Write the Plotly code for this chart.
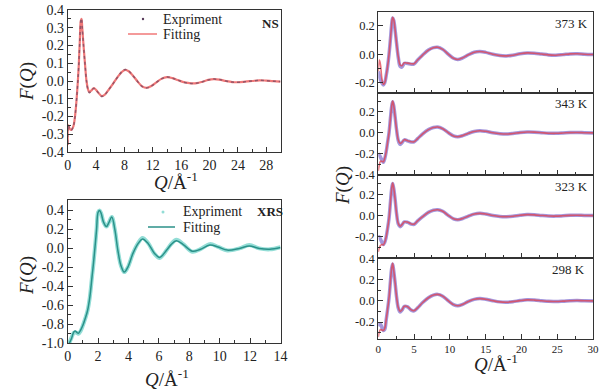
import plotly.graph_objects as go

# ---------------- data ----------------
# NS panel
Q_ns = [0.0, 0.08, 0.3, 0.5, 0.8, 1.0, 1.2, 1.4, 1.55, 1.7, 1.85, 1.95, 2.05, 2.25, 2.45, 2.65,
        2.85, 3.05, 3.3, 3.7, 4.2, 4.8, 5.2, 5.8, 6.4, 7.0, 7.6, 8.1, 8.6, 9.2, 9.9, 10.5, 11.1,
        11.8, 12.5, 13.2, 14.0, 14.8, 15.6, 16.5, 17.4, 18.2, 19.0, 19.8, 20.6, 21.4, 22.3,
        23.2, 24.0, 25.0, 26.0, 27.0, 28.0, 29.0, 30.0]
F_ns_fit = [-0.36, -0.25, -0.27, -0.275, -0.255, -0.21, -0.13, -0.02, 0.08, 0.22, 0.34, 0.35,
            0.30, 0.19, 0.09, 0.0, -0.045, -0.063, -0.055, -0.04, -0.06, -0.085, -0.078, -0.048,
            -0.015, 0.02, 0.05, 0.063, 0.055, 0.03, -0.005, -0.03, -0.038, -0.028, -0.008, 0.012,
            0.022, 0.016, 0.004, -0.008, -0.013, -0.012, -0.004, 0.006, 0.011, 0.008, 0.0, -0.006,
            -0.007, -0.004, 0.0, 0.004, 0.002, -0.001, -0.003]
F_ns_exp = [-0.35, -0.25, -0.272, -0.278, -0.255, -0.21, -0.13, -0.02, 0.08, 0.22, 0.34, 0.352,
            0.30, 0.19, 0.09, 0.0, -0.047, -0.066, -0.057, -0.041, -0.061, -0.087, -0.079, -0.048,
            -0.015, 0.02, 0.051, 0.065, 0.056, 0.03, -0.005, -0.031, -0.039, -0.028, -0.008, 0.012,
            0.023, 0.016, 0.004, -0.008, -0.014, -0.012, -0.004, 0.006, 0.011, 0.008, 0.0, -0.006,
            -0.007, -0.004, 0.0, 0.004, 0.002, -0.001, -0.003]

# XRS panel
Q_xrs = [0.1, 0.25, 0.4, 0.5, 0.6, 0.7, 0.85, 1.0, 1.15, 1.3, 1.45, 1.6, 1.7, 1.8, 1.9, 2.0,
         2.1, 2.2, 2.35, 2.55, 2.7, 2.9, 3.1, 3.3, 3.5, 3.72, 3.95, 4.3, 4.65, 4.92, 5.3, 5.7,
         6.05, 6.5, 6.8, 7.15, 7.6, 8.2, 8.7, 9.35, 9.9, 10.5, 11.3, 11.95, 12.6, 13.3, 14.0]
F_xrs_fit = [-1.0, -0.95, -0.88, -0.87, -0.885, -0.895, -0.86, -0.81, -0.74, -0.66, -0.52,
             -0.30, -0.15, 0.02, 0.20, 0.38, 0.40, 0.37, 0.28, 0.23, 0.27, 0.33, 0.20, -0.02,
             -0.18, -0.25, -0.20, -0.05, 0.055, 0.10, 0.05, -0.05, -0.095, -0.02, 0.04, 0.08,
             0.04, -0.03, -0.012, 0.035, 0.015, -0.018, 0.0, 0.025, 0.0, -0.008, 0.01]
F_xrs_exp = [-1.0, -0.94, -0.89, -0.885, -0.89, -0.90, -0.87, -0.81, -0.74, -0.66, -0.52,
             -0.30, -0.15, 0.02, 0.20, 0.38, 0.40, 0.37, 0.28, 0.23, 0.27, 0.33, 0.20, -0.02,
             -0.18, -0.25, -0.20, -0.05, 0.06, 0.11, 0.055, -0.055, -0.10, -0.02, 0.045, 0.09,
             0.045, -0.035, -0.01, 0.045, 0.015, -0.022, 0.0, 0.035, 0.0, -0.01, 0.012]

# temperature panels (same Q grid)
Q_t = [0.0, 0.15, 0.3, 0.5, 0.7, 0.9, 1.1, 1.3, 1.5, 1.7, 1.85, 2.0, 2.15, 2.35, 2.55, 2.8,
       3.05, 3.3, 3.65, 4.1, 4.6, 5.0, 5.5, 6.2, 7.0, 7.7, 8.3, 9.0, 9.8, 10.5, 11.1, 11.8,
       12.6, 13.4, 14.2, 15.0, 16.0, 17.0, 17.9, 18.8, 19.8, 20.8, 21.8, 22.8, 23.8, 24.8,
       25.8, 26.8, 27.8, 28.8, 30.0]
F_373_fit = [-0.12, -0.04, -0.07, -0.17, -0.21, -0.20, -0.15, -0.085, 0.0, 0.11, 0.20, 0.26,
             0.245, 0.17, 0.08, -0.02, -0.075, -0.08, -0.06, -0.062, -0.066, -0.066, -0.04,
             -0.005, 0.03, 0.047, 0.05, 0.035, 0.0, -0.028, -0.036, -0.025, -0.003, 0.015, 0.02,
             0.014, 0.0, -0.009, -0.011, -0.006, 0.004, 0.01, 0.008, 0.002, -0.004, -0.006,
             -0.002, 0.003, 0.004, 0.001, -0.001]
F_373_exp = [-0.12, -0.15, -0.18, -0.20, -0.215, -0.20, -0.15, -0.085, 0.0, 0.11, 0.20, 0.255,
             0.24, 0.17, 0.08, -0.025, -0.085, -0.09, -0.063, -0.065, -0.07, -0.068, -0.04,
             -0.005, 0.03, 0.047, 0.05, 0.035, 0.0, -0.028, -0.037, -0.025, -0.003, 0.015, 0.02,
             0.014, 0.0, -0.009, -0.011, -0.006, 0.004, 0.01, 0.008, 0.002, -0.004, -0.006,
             -0.002, 0.003, 0.004, 0.001, -0.001]
F_343_fit = [-0.36, -0.30, -0.27, -0.27, -0.275, -0.24, -0.18, -0.09, 0.0, 0.14, 0.24, 0.30,
             0.26, 0.15, 0.03, -0.07, -0.10, -0.09, -0.065, -0.075, -0.085, -0.085, -0.055,
             -0.01, 0.03, 0.05, 0.055, 0.038, 0.0, -0.03, -0.037, -0.027, -0.005, 0.013, 0.02,
             0.014, 0.0, -0.009, -0.012, -0.007, 0.002, 0.007, 0.006, 0.001, -0.004, -0.005,
             -0.002, 0.002, 0.003, 0.001, -0.001]
F_343_exp = [-0.20, -0.21, -0.23, -0.26, -0.28, -0.245, -0.18, -0.09, 0.0, 0.14, 0.24, 0.295,
             0.255, 0.15, 0.03, -0.075, -0.11, -0.095, -0.067, -0.077, -0.087, -0.086, -0.055,
             -0.01, 0.03, 0.05, 0.055, 0.038, 0.0, -0.03, -0.038, -0.027, -0.005, 0.013, 0.02,
             0.014, 0.0, -0.009, -0.012, -0.007, 0.002, 0.007, 0.006, 0.001, -0.004, -0.005,
             -0.002, 0.002, 0.003, 0.001, -0.001]
F_323_fit = [-0.34, -0.30, -0.28, -0.27, -0.275, -0.25, -0.20, -0.12, -0.025, 0.13, 0.24, 0.305,
             0.26, 0.15, 0.02, -0.075, -0.10, -0.085, -0.058, -0.062, -0.078, -0.08, -0.05,
             -0.01, 0.03, 0.05, 0.055, 0.04, 0.0, -0.03, -0.038, -0.027, -0.005, 0.014, 0.021,
             0.015, 0.001, -0.008, -0.01, -0.006, 0.003, 0.009, 0.007, 0.001, -0.004, -0.005,
             -0.002, 0.002, 0.003, 0.001, 0.0]
F_323_exp = [-0.20, -0.20, -0.22, -0.25, -0.27, -0.25, -0.20, -0.12, -0.025, 0.13, 0.24, 0.30,
             0.255, 0.15, 0.02, -0.08, -0.105, -0.088, -0.06, -0.064, -0.08, -0.082, -0.05,
             -0.01, 0.03, 0.05, 0.055, 0.04, 0.0, -0.03, -0.039, -0.027, -0.005, 0.014, 0.021,
             0.015, 0.001, -0.008, -0.01, -0.006, 0.003, 0.009, 0.007, 0.001, -0.004, -0.005,
             -0.002, 0.002, 0.003, 0.001, 0.0]
F_298_fit = [-0.34, -0.29, -0.27, -0.275, -0.28, -0.26, -0.18, -0.08, 0.03, 0.19, 0.30, 0.355,
             0.29, 0.17, 0.04, -0.065, -0.10, -0.085, -0.05, -0.055, -0.085, -0.092, -0.065,
             -0.015, 0.03, 0.055, 0.062, 0.045, 0.0, -0.035, -0.045, -0.032, -0.005, 0.015, 0.022,
             0.016, 0.002, -0.009, -0.012, -0.007, 0.003, 0.01, 0.008, 0.002, -0.004, -0.005,
             -0.002, 0.002, 0.004, 0.001, 0.0]
F_298_exp = [-0.24, -0.22, -0.22, -0.25, -0.28, -0.27, -0.18, -0.08, 0.03, 0.19, 0.30, 0.35,
             0.285, 0.17, 0.04, -0.07, -0.105, -0.088, -0.052, -0.057, -0.087, -0.094, -0.065,
             -0.015, 0.03, 0.055, 0.062, 0.045, 0.0, -0.035, -0.046, -0.032, -0.005, 0.015, 0.022,
             0.016, 0.002, -0.009, -0.012, -0.007, 0.003, 0.01, 0.008, 0.002, -0.004, -0.005,
             -0.002, 0.002, 0.004, 0.001, 0.0]

temp_labels = ["373 K", "343 K", "323 K", "298 K"]
temp_fit = [F_373_fit, F_343_fit, F_323_fit, F_298_fit]
temp_exp = [F_373_exp, F_343_exp, F_323_exp, F_298_exp]

# tick values
ns_xticks = [0, 4, 8, 12, 16, 20, 24, 28]
ns_yticks = [-0.4, -0.3, -0.2, -0.1, 0.0, 0.1, 0.2, 0.3, 0.4]
xrs_xticks = [0, 2, 4, 6, 8, 10, 12, 14]
xrs_yticks = [-1.0, -0.8, -0.6, -0.4, -0.2, 0.0, 0.2, 0.4]
t_xticks = [0, 5, 10, 15, 20, 25, 30]
t_yticks = [[-0.2, 0.0, 0.2], [-0.4, -0.2, 0.0, 0.2], [-0.2, 0.0, 0.2], [-0.2, 0.0, 0.2, 0.4]]

# ---------------- layout helpers ----------------
W, H = 608, 390
FONT = "Liberation Serif"
def px(x): return x / W
def py(y): return 1 - y / H

fig = go.Figure()

# NS
fig.add_trace(go.Scatter(x=Q_ns, y=F_ns_fit, mode="lines", line=dict(color="#f07878", width=2.2, shape="spline"),
                         xaxis="x", yaxis="y", showlegend=False))
fig.add_trace(go.Scatter(x=Q_ns, y=F_ns_exp, mode="lines",
                         line=dict(color="#5a3d5c", width=1.5, dash="dot", shape="spline"),
                         opacity=0.6, xaxis="x", yaxis="y", showlegend=False))
# XRS
fig.add_trace(go.Scatter(x=Q_xrs, y=F_xrs_exp, mode="lines", line=dict(color="#93ddd6", width=4, shape="spline"),
                         xaxis="x2", yaxis="y2", showlegend=False))
fig.add_trace(go.Scatter(x=Q_xrs, y=F_xrs_fit, mode="lines", line=dict(color="#2b9189", width=1.5, shape="spline"),
                         xaxis="x2", yaxis="y2", showlegend=False))
# temperature panels
for i in range(4):
    ax = str(i + 3)
    fig.add_trace(go.Scatter(x=Q_t, y=temp_exp[i], mode="lines", line=dict(color="#a497dc", width=3.5, shape="spline"),
                             xaxis="x" + ax, yaxis="y" + ax, showlegend=False))
    fig.add_trace(go.Scatter(x=Q_t, y=temp_fit[i], mode="lines", line=dict(color="#e0404e", width=1.6, shape="spline"),
                             opacity=0.75, xaxis="x" + ax, yaxis="y" + ax, showlegend=False))

def fmt(vals, nd=1):
    return [f"{v:.{nd}f}" if v != 0 else "0.0" for v in vals]

def xax(domain, rng, ticks, minor, show_labels=True, size=14):
    return dict(domain=domain, range=rng, tickmode="array", tickvals=ticks,
                ticktext=[str(t) for t in ticks], showticklabels=show_labels,
                ticks="inside", ticklen=5, tickcolor="#333", showline=True, linecolor="#333", linewidth=1,
                mirror=True, showgrid=False, zeroline=False, automargin=False,
                minor=dict(ticks="inside", ticklen=3, dtick=minor, tick0=0, tickcolor="#333", showgrid=False),
                tickfont=dict(family=FONT, size=size, color="#222"))

def yax(domain, rng, ticks, minor, anchor, size=14):
    return dict(domain=domain, range=rng, anchor=anchor, tickmode="array", tickvals=ticks,
                ticktext=fmt(ticks), ticks="inside", ticklen=5, tickcolor="#333", automargin=False,
                showline=True, linecolor="#333", linewidth=1, mirror=True, showgrid=False, zeroline=False,
                minor=dict(ticks="inside", ticklen=3, dtick=minor, tick0=0, tickcolor="#333", showgrid=False),
                tickfont=dict(family=FONT, size=size, color="#222"))

ns_xd = [px(67.7), px(280.5)]
t_xd = [px(378.3), px(593)]
t_bounds = [11.7, 92.7, 175, 258.3, 339]
t_ranges = [[-0.27, 0.30], [-0.40, 0.38], [-0.40, 0.38], [-0.36, 0.403]]

layout = dict(width=W, height=H, margin=dict(l=0, r=0, t=0, b=0, autoexpand=False),
              paper_bgcolor="white", plot_bgcolor="white",
              font=dict(family=FONT, color="#222"), showlegend=False)
layout["xaxis"] = xax(ns_xd, [0, 30], ns_xticks, 2)
layout["xaxis"]["anchor"] = "y"
layout["yaxis"] = yax([py(152), py(10)], [-0.4, 0.4], ns_yticks, 0.05, "x")
layout["xaxis2"] = xax(ns_xd, [0, 14], xrs_xticks, 1)
layout["xaxis2"]["anchor"] = "y2"
layout["yaxis2"] = yax([py(343.3), py(200)], [-1.0, 0.51], xrs_yticks, 0.1, "x2")
for i in range(4):
    n = i + 3
    xa = xax(t_xd, [0, 30], t_xticks, 2.5, show_labels=(i == 3), size=11)
    xa["anchor"] = "y%d" % n
    layout["xaxis%d" % n] = xa
    layout["yaxis%d" % n] = yax([py(t_bounds[i + 1]), py(t_bounds[i])], t_ranges[i], t_yticks[i], 0.1,
                                "x%d" % n, size=12.5)

ann = []
def text(x, y, s, size=13, xanchor="center", angle=0, bold=False):
    ann.append(dict(x=px(x), y=py(y), xref="paper", yref="paper", text=("<b>%s</b>" % s) if bold else s,
                    showarrow=False, xanchor=xanchor, yanchor="middle", textangle=angle,
                    font=dict(family=FONT, size=size, color="#222")))

FQ = "<i>F</i>(<i>Q</i>)"
QA = "<i>Q</i>/Å<sup>-1</sup>"
text(27, 82, FQ, size=19, angle=-90)
text(27, 276, FQ, size=19, angle=-90)
text(343, 186, FQ, size=19, angle=-90)
text(176, 181, QA, size=19)
text(167, 378, QA, size=19)
text(496, 363, QA, size=19)
text(270, 23, "NS", size=13, bold=True)
text(270, 212, "XRS", size=13, bold=True)
label_pos = [(590, 23), (590, 104), (590, 186), (587, 269)]
for lab, (lx, ly) in zip(temp_labels, label_pos):
    text(lx, ly, lab, size=13, xanchor="right")
# legends
text(161, 19, "Expriment", size=14, xanchor="left")
text(161, 34, "Fitting", size=14, xanchor="left")
text(181, 212, "Expriment", size=14, xanchor="left")
text(181, 227, "Fitting", size=14, xanchor="left")
layout["annotations"] = ann

shapes = [
    dict(type="line", xref="paper", yref="paper", x0=px(128), x1=px(157), y0=py(34), y1=py(34),
         line=dict(color="#f07878", width=1.5)),
    dict(type="circle", xref="paper", yref="paper", x0=px(141.8), x1=px(144.2), y0=py(20.2), y1=py(17.8),
         fillcolor="#5a3d5c", line=dict(width=0)),
    dict(type="line", xref="paper", yref="paper", x0=px(148), x1=px(175), y0=py(227), y1=py(227),
         line=dict(color="#2b9189", width=1.5)),
    dict(type="circle", xref="paper", yref="paper", x0=px(161.5), x1=px(164.5), y0=py(213.5), y1=py(210.5),
         fillcolor="#93ddd6", line=dict(width=0)),
]
layout["shapes"] = shapes

fig.update_layout(**layout)
fig.write_html("out.html", config={"displayModeBar": False},
               post_script="document.body.style.margin='0px';document.body.style.overflow='hidden';")
